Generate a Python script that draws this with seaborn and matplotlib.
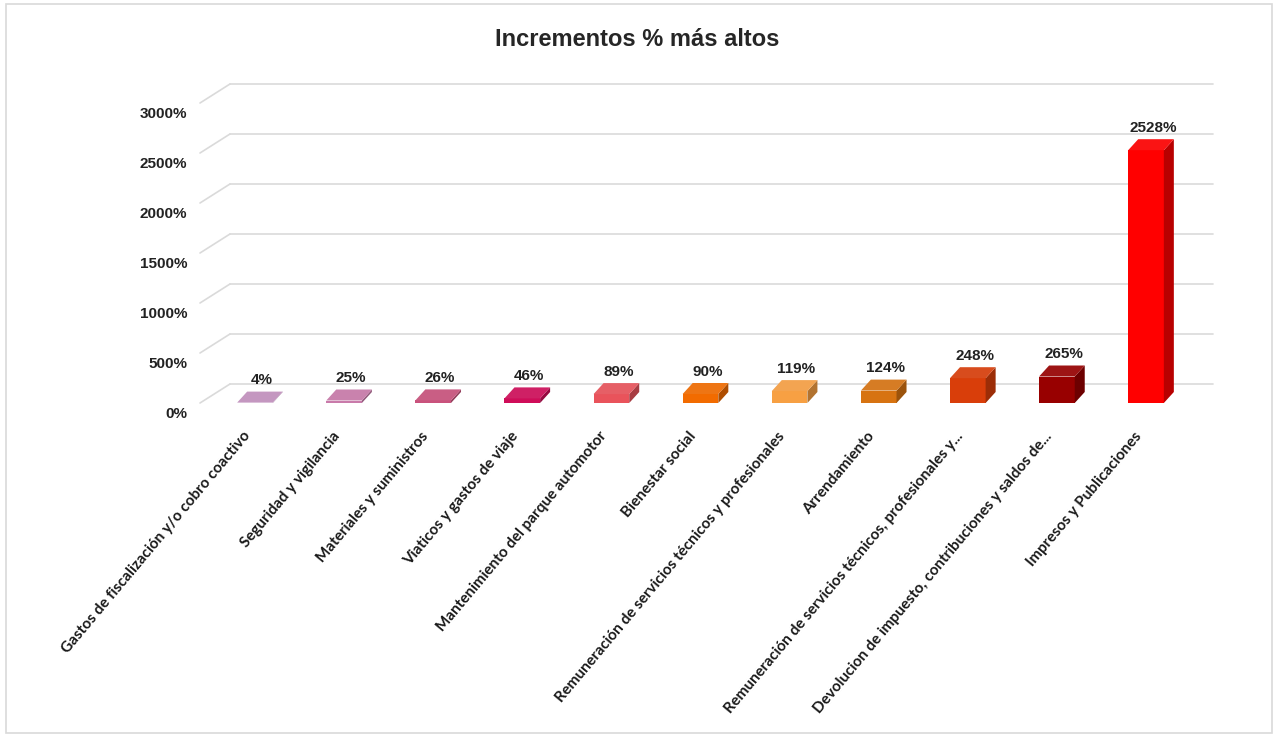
import numpy as np
import pandas as pd
import seaborn as sns
import matplotlib.pyplot as plt
from matplotlib import font_manager
from matplotlib.patches import Polygon, Rectangle
from matplotlib.transforms import ScaledTranslation
from matplotlib.colors import to_rgb

# =================== Data ===================

categories = [
    'Gastos de fiscalización y/o cobro coactivo',
    'Seguridad y vigilancia',
    'Materiales y suministros',
    'Viaticos y gastos de viaje',
    'Mantenimiento del parque automotor',
    'Bienestar social',
    'Remuneración de servicios técnicos y profesionales',
    'Arrendamiento',
    'Remuneración de servicios técnicos, profesionales y...',
    'Devolucion de impuesto, contribuciones y saldos de...',
    'Impresos y Publicaciones',
]
values = [4, 25, 26, 46, 89, 90, 119, 124, 248, 265, 2528]
bar_colors = ['#C391BF', '#C97AAA', '#C9527C', '#CF0D59', '#E9535B', '#F26B00',
              '#F7A043', '#D77311', '#D93E0A', '#980000', '#FF0000']
y_ticks = [0, 500, 1000, 1500, 2000, 2500, 3000]
title = 'Incrementos % más altos'

df = pd.DataFrame({'Categoria': categories, 'Incremento': values})

# =================== Plot ===================

sns.set_theme(style='white')
plt.rcParams['font.family'] = ['Liberation Sans', 'DejaVu Sans']

# narrow face for the numbers if one is installed
installed = {f.name for f in font_manager.fontManager.ttflist}
num_font = {'family': ['Liberation Sans', 'DejaVu Sans'], 'size': 11}
for cand in ['Liberation Sans Narrow', 'DejaVu Sans Condensed']:
    if cand in installed:
        num_font = {'family': [cand, 'DejaVu Sans'], 'size': 12.5}
        break

fig = plt.figure(figsize=(12.75, 7.36), dpi=100)
fig.patches.append(Rectangle((6 / 1275, 3 / 736), 1266 / 1275, 729 / 736,
                             transform=fig.transFigure, fill=False,
                             edgecolor='#D9D9D9', linewidth=1.2))
ax = fig.add_axes([200 / 1275, 1 - 403 / 736, 983 / 1275, 300 / 736])

sns.barplot(data=df, x='Categoria', y='Incremento', hue='Categoria',
            palette=bar_colors, legend=False, width=0.4, saturation=1,
            edgecolor='none', ax=ax, zorder=3)
ax.set_xlim(-0.617, 10.415)
ax.set_ylim(0, 3000)
for s in ax.spines.values():
    s.set_visible(False)
ax.set_xlabel('')
ax.set_ylabel('')

# pixel -> data conversion for the fake 3D depth
p0 = ax.transData.transform((0, 0))
p1 = ax.transData.transform((1, 1000))
px_x = p1[0] - p0[0]
px_y = (p1[1] - p0[1]) / 1000

# back wall gridlines
xl, xr = ax.get_xlim()
wdx, wdy = 30 / px_x, 19 / px_y
for t in y_ticks:
    ax.plot([xl, xl + wdx], [t, t + wdy], color='#DADADA', lw=1.2, zorder=0.5, clip_on=False)
    ax.plot([xl + wdx, xr + wdx], [t + wdy, t + wdy], color='#DADADA', lw=1.2, zorder=0.5, clip_on=False)

# side and top faces for each bar
bdx, bdy = 10 / px_x, 11 / px_y
bars = sorted(ax.patches, key=lambda p: p.get_x())
for p, c in zip(bars, bar_colors):
    x0, w, h = p.get_x(), p.get_width(), p.get_height()
    rgb = np.array(to_rgb(c))
    side = Polygon([(x0 + w, 0), (x0 + w + bdx, bdy), (x0 + w + bdx, h + bdy), (x0 + w, h)],
                   closed=True, facecolor=rgb * 0.72, edgecolor='none', zorder=3, clip_on=False)
    top = Polygon([(x0, h), (x0 + bdx, h + bdy), (x0 + w + bdx, h + bdy), (x0 + w, h)],
                  closed=True, facecolor=rgb * 0.9 + 0.08, edgecolor='none', zorder=3, clip_on=False)
    ax.add_patch(side)
    ax.add_patch(top)

# data labels
for i, v in enumerate(values):
    ax.annotate(f'{v}%', xy=(i, v), xytext=(5, 16), textcoords='offset points',
                ha='center', va='center', fontweight='bold', color='#222222', **num_font)

# axes ticks
ax.set_yticks(y_ticks)
ax.set_yticklabels([f'{t}%' for t in y_ticks], fontweight='bold', color='#222222', **num_font)
ax.tick_params(axis='y', length=0, pad=9)
for lab in ax.get_yticklabels():
    lab.set_transform(lab.get_transform() + ScaledTranslation(0, -9 / 100, fig.dpi_scale_trans))

ax.set_xticks(range(len(categories)))
ax.set_xticklabels(categories, rotation=50, ha='right', va='center', rotation_mode='anchor',
                   fontsize=11, fontweight='bold', family=['Lato', 'DejaVu Sans'], color='#1A1A1A')
ax.tick_params(axis='x', length=0, pad=22)
for lab in ax.get_xticklabels():
    lab.set_transform(lab.get_transform() + ScaledTranslation(-7 / 100, 0, fig.dpi_scale_trans))

fig.text(0.5, 1 - 40 / 736, title, ha='center', va='center', fontsize=17,
         fontweight='bold', color='#262626')

fig.savefig('out.png', dpi=100)
